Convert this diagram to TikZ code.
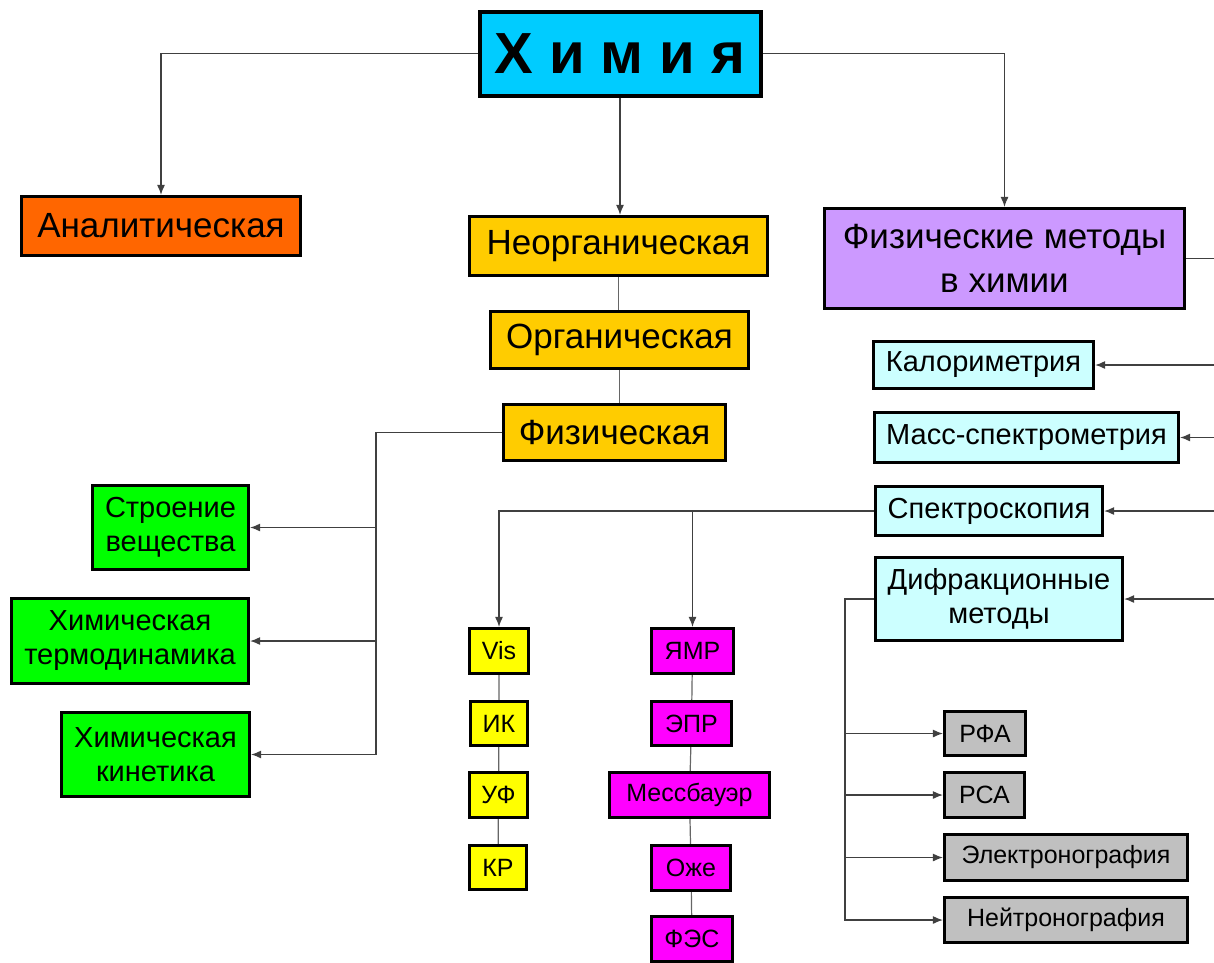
\documentclass[tikz,border=0pt]{standalone}
\usepackage{fontspec}
\setmainfont{Liberation Sans}
\usetikzlibrary{arrows.meta,positioning,calc}

\definecolor{himcyan}{HTML}{00CCFF}
\definecolor{analorange}{HTML}{FF6600}
\definecolor{brgold}{HTML}{FFCC00}
\definecolor{methlilac}{HTML}{CC99FF}
\definecolor{methpale}{HTML}{CCFFFF}
\definecolor{physgreen}{HTML}{00FF00}
\definecolor{specyellow}{HTML}{FFFF00}
\definecolor{specmagenta}{HTML}{FF00FF}
\definecolor{difgray}{HTML}{C0C0C0}

\begin{document}
\begin{tikzpicture}[
  x=1pt, y=-1pt,
  box/.style={draw, line width=3.2pt, align=center, inner sep=0pt},
  sz/.style 2 args={minimum width=#1, minimum height=#2},
  big/.style={box, font=\fontsize{35}{44}\selectfont},
  mid/.style={box, font=\fontsize{29}{34}\selectfont},
  small/.style={box, font=\fontsize{25}{28}\selectfont},
  flow/.style={-{Latex[length=10pt,width=8pt]}, line width=1.2pt, black!75},
  link/.style={line width=1.2pt, black!60}
]
\useasboundingbox (0,0) rectangle (1214,962);
\clip (0,0) rectangle (1214,962);

% top and first level
\node[box, line width=4pt, sz={281}{84}, fill=himcyan, font=\fontsize{58}{64}\selectfont\bfseries] (him) at (620,53.5) {Х и м и я};
\node[big, sz={279}{59}, fill=analorange] (anal) at (161,226) {Аналитическая};
\node[big, sz={298}{59}, fill=brgold] (neorg) at (618.5,246) {Неорганическая};
\node[big, sz={258}{57}, fill=brgold] (org) at (619.5,340) {Органическая};
\node[big, sz={222}{56}, fill=brgold] (fiz) at (614.5,432.5) {Физическая};
\node[big, sz={360}{100}, fill=methlilac] (fm) at (1004.5,258.5) {Физические методы\\в химии};

% physical chemistry
\node[mid, sz={156}{84}, fill=physgreen] (stro) at (170.5,527.5) {Строение\\вещества};
\node[mid, sz={237}{85}, fill=physgreen] (term) at (130,641) {Химическая\\термодинамика};
\node[mid, sz={188}{84}, fill=physgreen] (kin) at (155.5,754.5) {Химическая\\кинетика};

% physical methods
\node[mid, sz={220}{47}, fill=methpale] (kal) at (983.5,365) {Калориметрия};
\node[mid, sz={304}{50}, fill=methpale] (mass) at (1026.5,437.5) {Масс-спектрометрия};
\node[mid, sz={227}{49}, fill=methpale] (spec) at (989,511) {Спектроскопия};
\node[mid, sz={247}{83}, fill=methpale] (dif) at (999,599) {Дифракционные\\методы};

% spectroscopy
\node[small, sz={59}{45}, fill=specyellow] (vis) at (499,651) {Vis};
\node[small, sz={57}{44}, fill=specyellow] (ik) at (499,723.5) {ИК};
\node[small, sz={58}{45}, fill=specyellow] (uf) at (498.5,795) {УФ};
\node[small, sz={57}{44}, fill=specyellow] (kr) at (498,867.5) {КР};
\node[small, sz={82}{45}, fill=specmagenta] (yamr) at (692.5,651) {ЯМР};
\node[small, sz={80}{44}, fill=specmagenta] (epr) at (691.5,723.5) {ЭПР};
\node[small, sz={160}{45}, fill=specmagenta] (mess) at (689.5,795) {Мессбауэр};
\node[small, sz={79}{45}, fill=specmagenta] (ozhe) at (691,868) {Оже};
\node[small, sz={81}{45}, fill=specmagenta] (fes) at (692,939) {ФЭС};

% diffraction
\node[small, sz={81}{44}, fill=difgray] (rfa) at (985,733.5) {РФА};
\node[small, sz={80}{45}, fill=difgray] (rsa) at (984.5,795) {РСА};
\node[small, sz={243}{46}, fill=difgray] (elec) at (1066,857.5) {Электронография};
\node[small, sz={243}{45}, fill=difgray] (neut) at (1066,920) {Нейтронография};

% bus points
\coordinate (fbus) at (376,432.5);
\coordinate (rbus) at (1218,258.5);
\coordinate (dbus) at (845,599);

\draw[flow] (him.west) -| (anal.north);
\draw[flow] (him.south) -- (him.south |- neorg.north);
\draw[flow] (him.east) -| (fm.north);
\draw[link] (neorg.south) -- (neorg.south |- org.north);
\draw[link] (org.south) -- (org.south |- fiz.north);

\draw[flow] (fiz.west) -- (fbus) |- (kin.east);
\foreach \n in {stro,term}
  \draw[flow] (fbus |- \n.east) -- (\n.east);

\draw[line width=1.2pt, black!75] (fm.east) -- (rbus);
\foreach \n in {kal,mass,spec,dif}
  \draw[flow] (rbus |- \n.east) -- (\n.east);

\draw[flow] (spec.west) -| (vis.north);
\draw[flow] (spec.west -| yamr.north) -- (yamr.north);
\draw[link] (vis) -- (ik) (ik) -- (uf) (uf) -- (kr);
\draw[link] (yamr) -- (epr) (epr) -- (mess) (mess) -- (ozhe) (ozhe) -- (fes);

\draw[flow] (dif.west) -- (dbus) |- (neut.west);
\foreach \n in {rfa,rsa,elec}
  \draw[flow] (dbus |- \n.west) -- (\n.west);
\end{tikzpicture}
\end{document}
